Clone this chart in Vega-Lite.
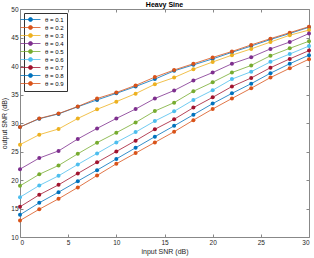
{
  "$schema": "https://vega.github.io/schema/vega-lite/v6.json",
  "width": 289,
  "height": 228,
  "autosize": {"type": "none"},
  "padding": {"left": 20, "top": 9, "right": 5, "bottom": 21},
  "title": {"text": "Heavy Sine", "fontSize": 7, "font": "Liberation Sans", "fontWeight": "bold", "color": "#000", "offset": -9, "baseline": "bottom", "frame": "group"},
  "config": {
    "view": {"stroke": null},
    "axis": {"labelFont": "Liberation Sans", "titleFont": "Liberation Sans", "labelFontSize": 6.5, "titleFontSize": 7, "labelColor": "#262626", "titleColor": "#262626", "domainColor": "#888", "tickColor": "#888", "grid": false, "titleFontWeight": "normal"}
  },
  "data": {"values": [
    {"x":0,"t":"θ = 0.1","y":29.3},{"x":2,"t":"θ = 0.1","y":30.75},{"x":4,"t":"θ = 0.1","y":31.6},{"x":6,"t":"θ = 0.1","y":32.85},{"x":8,"t":"θ = 0.1","y":34.05},{"x":10,"t":"θ = 0.1","y":35.2},{"x":12,"t":"θ = 0.1","y":36.4},{"x":14,"t":"θ = 0.1","y":37.7},{"x":16,"t":"θ = 0.1","y":39.15},{"x":18,"t":"θ = 0.1","y":40.2},{"x":20,"t":"θ = 0.1","y":41.25},{"x":22,"t":"θ = 0.1","y":42.4},{"x":24,"t":"θ = 0.1","y":43.5},{"x":26,"t":"θ = 0.1","y":44.65},{"x":28,"t":"θ = 0.1","y":45.7},{"x":30,"t":"θ = 0.1","y":46.8},
    {"x":0,"t":"θ = 0.2","y":29.3},{"x":2,"t":"θ = 0.2","y":30.8},{"x":4,"t":"θ = 0.2","y":31.65},{"x":6,"t":"θ = 0.2","y":32.9},{"x":8,"t":"θ = 0.2","y":34.3},{"x":10,"t":"θ = 0.2","y":35.35},{"x":12,"t":"θ = 0.2","y":36.6},{"x":14,"t":"θ = 0.2","y":38.05},{"x":16,"t":"θ = 0.2","y":39.3},{"x":18,"t":"θ = 0.2","y":40.4},{"x":20,"t":"θ = 0.2","y":41.5},{"x":22,"t":"θ = 0.2","y":42.55},{"x":24,"t":"θ = 0.2","y":43.7},{"x":26,"t":"θ = 0.2","y":44.8},{"x":28,"t":"θ = 0.2","y":45.85},{"x":30,"t":"θ = 0.2","y":46.9},
    {"x":0,"t":"θ = 0.3","y":26.2},{"x":2,"t":"θ = 0.3","y":27.95},{"x":4,"t":"θ = 0.3","y":28.95},{"x":6,"t":"θ = 0.3","y":30.8},{"x":8,"t":"θ = 0.3","y":32.4},{"x":10,"t":"θ = 0.3","y":33.75},{"x":12,"t":"θ = 0.3","y":35.15},{"x":14,"t":"θ = 0.3","y":36.8},{"x":16,"t":"θ = 0.3","y":37.97},{"x":18,"t":"θ = 0.3","y":39.45},{"x":20,"t":"θ = 0.3","y":40.7},{"x":22,"t":"θ = 0.3","y":41.9},{"x":24,"t":"θ = 0.3","y":43.0},{"x":26,"t":"θ = 0.3","y":44.2},{"x":28,"t":"θ = 0.3","y":45.4},{"x":30,"t":"θ = 0.3","y":46.3},
    {"x":0,"t":"θ = 0.4","y":21.9},{"x":2,"t":"θ = 0.4","y":23.85},{"x":4,"t":"θ = 0.4","y":25.1},{"x":6,"t":"θ = 0.4","y":27.2},{"x":8,"t":"θ = 0.4","y":29.05},{"x":10,"t":"θ = 0.4","y":30.8},{"x":12,"t":"θ = 0.4","y":32.45},{"x":14,"t":"θ = 0.4","y":34.3},{"x":16,"t":"θ = 0.4","y":35.7},{"x":18,"t":"θ = 0.4","y":37.45},{"x":20,"t":"θ = 0.4","y":38.85},{"x":22,"t":"θ = 0.4","y":40.4},{"x":24,"t":"θ = 0.4","y":41.55},{"x":26,"t":"θ = 0.4","y":43.0},{"x":28,"t":"θ = 0.4","y":44.2},{"x":30,"t":"θ = 0.4","y":45.7},
    {"x":0,"t":"θ = 0.5","y":18.97},{"x":2,"t":"θ = 0.5","y":21.0},{"x":4,"t":"θ = 0.5","y":22.55},{"x":6,"t":"θ = 0.5","y":24.6},{"x":8,"t":"θ = 0.5","y":26.55},{"x":10,"t":"θ = 0.5","y":28.3},{"x":12,"t":"θ = 0.5","y":30.1},{"x":14,"t":"θ = 0.5","y":32.1},{"x":16,"t":"θ = 0.5","y":33.57},{"x":18,"t":"θ = 0.5","y":35.57},{"x":20,"t":"θ = 0.5","y":37.15},{"x":22,"t":"θ = 0.5","y":38.85},{"x":24,"t":"θ = 0.5","y":40.1},{"x":26,"t":"θ = 0.5","y":41.8},{"x":28,"t":"θ = 0.5","y":43.1},{"x":30,"t":"θ = 0.5","y":44.35},
    {"x":0,"t":"θ = 0.6","y":16.98},{"x":2,"t":"θ = 0.6","y":19.04},{"x":4,"t":"θ = 0.6","y":20.73},{"x":6,"t":"θ = 0.6","y":22.73},{"x":8,"t":"θ = 0.6","y":24.67},{"x":10,"t":"θ = 0.6","y":26.6},{"x":12,"t":"θ = 0.6","y":28.4},{"x":14,"t":"θ = 0.6","y":30.35},{"x":16,"t":"θ = 0.6","y":32.05},{"x":18,"t":"θ = 0.6","y":34.05},{"x":20,"t":"θ = 0.6","y":35.75},{"x":22,"t":"θ = 0.6","y":37.7},{"x":24,"t":"θ = 0.6","y":39.0},{"x":26,"t":"θ = 0.6","y":40.73},{"x":28,"t":"θ = 0.6","y":42.1},{"x":30,"t":"θ = 0.6","y":43.5},
    {"x":0,"t":"θ = 0.7","y":15.3},{"x":2,"t":"θ = 0.7","y":17.4},{"x":4,"t":"θ = 0.7","y":19.15},{"x":6,"t":"θ = 0.7","y":21.15},{"x":8,"t":"θ = 0.7","y":23.1},{"x":10,"t":"θ = 0.7","y":25.0},{"x":12,"t":"θ = 0.7","y":26.9},{"x":14,"t":"θ = 0.7","y":28.9},{"x":16,"t":"θ = 0.7","y":30.65},{"x":18,"t":"θ = 0.7","y":32.7},{"x":20,"t":"θ = 0.7","y":34.5},{"x":22,"t":"θ = 0.7","y":36.4},{"x":24,"t":"θ = 0.7","y":37.9},{"x":26,"t":"θ = 0.7","y":39.7},{"x":28,"t":"θ = 0.7","y":41.25},{"x":30,"t":"θ = 0.7","y":42.7},
    {"x":0,"t":"θ = 0.8","y":13.9},{"x":2,"t":"θ = 0.8","y":16.0},{"x":4,"t":"θ = 0.8","y":17.86},{"x":6,"t":"θ = 0.8","y":19.8},{"x":8,"t":"θ = 0.8","y":21.73},{"x":10,"t":"θ = 0.8","y":23.7},{"x":12,"t":"θ = 0.8","y":25.65},{"x":14,"t":"θ = 0.8","y":27.6},{"x":16,"t":"θ = 0.8","y":29.5},{"x":18,"t":"θ = 0.8","y":31.45},{"x":20,"t":"θ = 0.8","y":33.4},{"x":22,"t":"θ = 0.8","y":35.2},{"x":24,"t":"θ = 0.8","y":36.9},{"x":26,"t":"θ = 0.8","y":38.74},{"x":28,"t":"θ = 0.8","y":40.4},{"x":30,"t":"θ = 0.8","y":41.9},
    {"x":0,"t":"θ = 0.9","y":12.9},{"x":2,"t":"θ = 0.9","y":14.87},{"x":4,"t":"θ = 0.9","y":16.7},{"x":6,"t":"θ = 0.9","y":18.7},{"x":8,"t":"θ = 0.9","y":20.8},{"x":10,"t":"θ = 0.9","y":22.84},{"x":12,"t":"θ = 0.9","y":24.72},{"x":14,"t":"θ = 0.9","y":26.6},{"x":16,"t":"θ = 0.9","y":28.47},{"x":18,"t":"θ = 0.9","y":30.5},{"x":20,"t":"θ = 0.9","y":32.46},{"x":22,"t":"θ = 0.9","y":34.3},{"x":24,"t":"θ = 0.9","y":36.1},{"x":26,"t":"θ = 0.9","y":37.97},{"x":28,"t":"θ = 0.9","y":39.6},{"x":30,"t":"θ = 0.9","y":41.2}
  ]},
  "resolve": {"axis": {"x": "independent", "y": "independent"}},
  "layer": [
    {
      "mark": {"type": "line", "strokeWidth": 0.8},
      "encoding": {
        "x": {"field": "x", "type": "quantitative", "scale": {"domain": [0, 30], "nice": false, "zero": false},
              "axis": {"orient": "bottom", "values": [0,5,10,15,20,25,30], "title": "input SNR (dB)", "tickSize": -3, "labelPadding": 5, "titlePadding": 2}},
        "y": {"field": "y", "type": "quantitative", "scale": {"domain": [10, 50], "nice": false, "zero": false},
              "axis": {"orient": "left", "values": [10,15,20,25,30,35,40,45,50], "title": "output SNR (dB)", "tickSize": -3, "labelPadding": 5, "titlePadding": 3}},
        "color": {"field": "t", "type": "nominal",
          "scale": {"domain": ["θ = 0.1","θ = 0.2","θ = 0.3","θ = 0.4","θ = 0.5","θ = 0.6","θ = 0.7","θ = 0.8","θ = 0.9"],
                    "range": ["#0072BD","#D95319","#EDB120","#7E2F8E","#77AC30","#4DBEEE","#A2142F","#0072BD","#D95319"]},
          "legend": {"title": null, "orient": "top-left", "offset": 4, "padding": 3, "strokeColor": "#333", "fillColor": "#fff",
                     "labelFont": "Liberation Sans", "labelFontSize": 6, "labelColor": "#000", "labelOffset": 11,
                     "symbolType": "M-3.33,0H3.33M-0.67,0A0.67,0.67,0,1,1,0.67,0A0.67,0.67,0,1,1,-0.67,0Z", "symbolSize": 36, "symbolStrokeWidth": 0.8, "rowPadding": -1.2,
                     "encode": {"symbols": {"update": {"fill": {"scale": "color", "field": "value"}, "stroke": {"scale": "color", "field": "value"}}}}}}
      }
    },
    {
      "mark": {"type": "point", "filled": true, "size": 16, "opacity": 1},
      "encoding": {
        "x": {"field": "x", "type": "quantitative", "axis": {"orient": "top", "values": [0,5,10,15,20,25,30], "labels": false, "title": null, "tickSize": -3}},
        "y": {"field": "y", "type": "quantitative", "axis": {"orient": "right", "values": [10,15,20,25,30,35,40,45,50], "labels": false, "title": null, "tickSize": -3}},
        "color": {"field": "t", "type": "nominal", "legend": null}
      }
    }
  ]
}
